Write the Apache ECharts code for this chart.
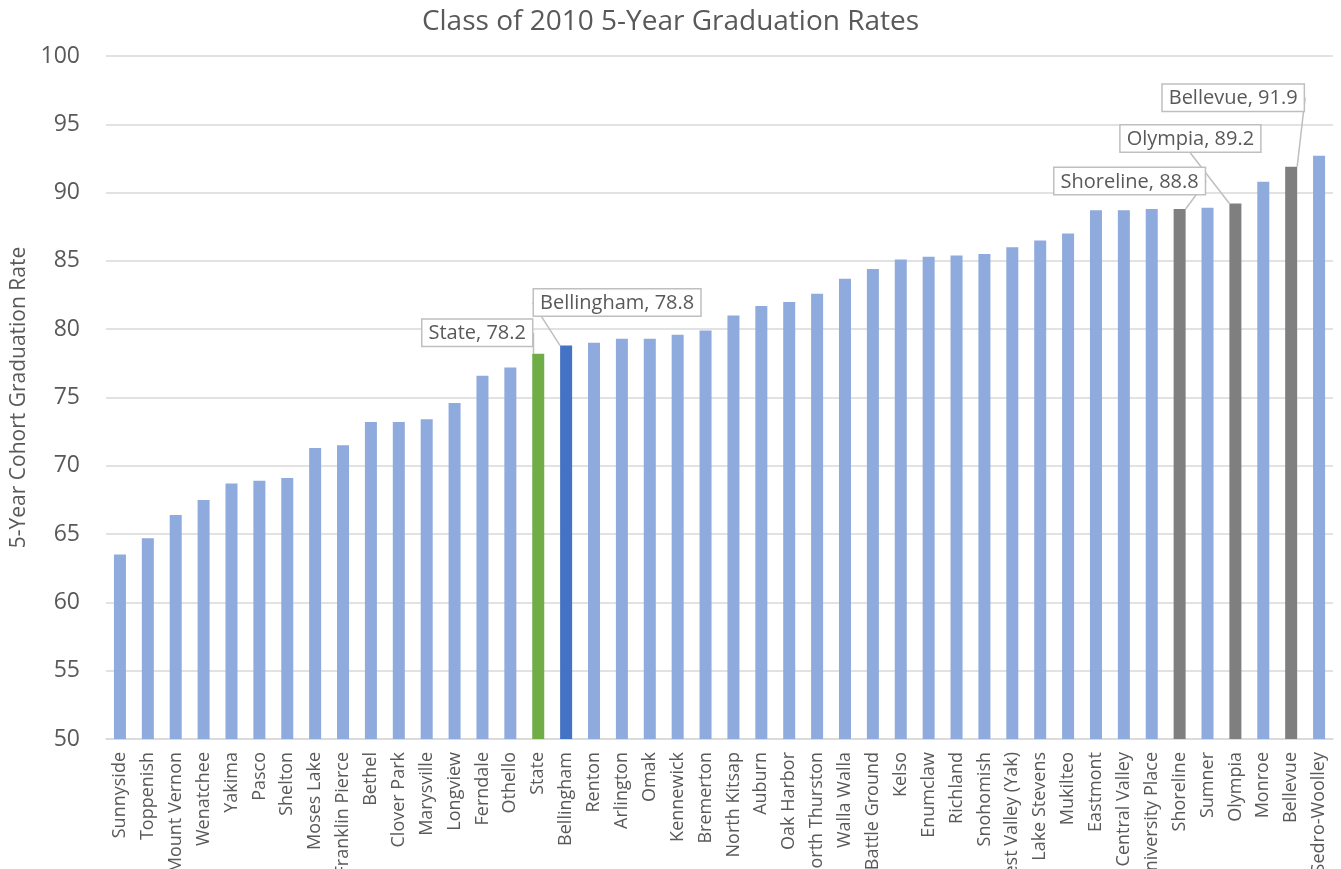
<!DOCTYPE html>
<html>
<head>
<meta charset="utf-8">
<script src="https://cdn.jsdelivr.net/npm/echarts@6/dist/echarts.min.js"></script>
<style>
  html, body { margin: 0; padding: 0; background: #fff; }
  #main { width: 1341px; height: 869px; }
</style>
</head>
<body>
<div id="main"></div>
<script>
// 学区名称
let districts = ['Sunnyside', 'Toppenish', 'Mount Vernon', 'Wenatchee', 'Yakima', 'Pasco', 'Shelton', 'Moses Lake',
    'Franklin Pierce', 'Bethel', 'Clover Park', 'Marysville', 'Longview', 'Ferndale', 'Othello', 'State',
    'Bellingham', 'Renton', 'Arlington', 'Omak', 'Kennewick', 'Bremerton', 'North Kitsap', 'Auburn',
    'Oak Harbor', 'North Thurston', 'Walla Walla', 'Battle Ground', 'Kelso', 'Enumclaw', 'Richland',
    'Snohomish', 'West Valley (Yak)', 'Lake Stevens', 'Mukilteo', 'Eastmont', 'Central Valley',
    'University Place', 'Shoreline', 'Sumner', 'Olympia', 'Monroe', 'Bellevue', 'Sedro-Woolley'];

// 5年毕业率
let rates = [63.5, 64.7, 66.4, 67.5, 68.7, 68.9, 69.1, 71.3,
    71.5, 73.2, 73.2, 73.4, 74.6, 76.6, 77.2, 78.2,
    78.8, 79.0, 79.3, 79.3, 79.6, 79.9, 81.0, 81.7,
    82.0, 82.6, 83.7, 84.4, 85.1, 85.3, 85.4,
    85.5, 86.0, 86.5, 87.0, 88.7, 88.7,
    88.8, 88.8, 88.9, 89.2, 90.8, 91.9, 92.7];

// 需要标注的学区
let labelled = ['State', 'Bellingham', 'Shoreline', 'Olympia', 'Bellevue'];

// 颜色
let colors = { base: '#8FAADC', State: '#70AD47', Bellingham: '#4472C4', Shoreline: '#7F7F7F', Olympia: '#7F7F7F', Bellevue: '#7F7F7F' };
// 标签偏移
let labelShift = { State: [-61, -3], Bellingham: [51, -25], Shoreline: [-50, -10], Olympia: [-45, -47], Bellevue: [-58, -51] };

let font = 'Open Sans';

let option = {
    backgroundColor: '#fff',
    animation: false,
    title: {
        text: 'Class of 2010 5-Year Graduation Rates',
        left: 'center',
        top: 3,
        textStyle: { color: '#595959', fontFamily: font, fontWeight: 'normal', fontSize: 28 }
    },
    grid: { left: 106, right: 8, top: 56, bottom: 130, outerBoundsMode: 'none' },
    xAxis: {
        type: 'category',
        data: districts,
        axisLine: { lineStyle: { color: '#d9d9d9', width: 1.5 } },
        axisTick: { show: false },
        axisLabel: { rotate: 90, interval: 0, color: '#595959', fontFamily: font, fontSize: 18, margin: 13 }
    },
    yAxis: {
        type: 'value',
        min: 50, max: 100, interval: 5,
        name: '5-Year Cohort Graduation Rate',
        nameLocation: 'middle',
        nameGap: 76,
        nameTextStyle: { color: '#595959', fontFamily: font, fontSize: 21 },
        axisLine: { show: false },
        axisTick: { show: false },
        axisLabel: { color: '#595959', fontFamily: font, fontSize: 23, margin: 26 },
        splitLine: { lineStyle: { color: '#d9d9d9', width: 1.5 } }
    },
    series: [{
        type: 'bar',
        barWidth: 12,
        data: districts.map((d, i) => {
            let item = { value: rates[i], itemStyle: { color: colors[d] || colors.base } };
            if (labelled.includes(d)) {
                item.label = {
                    show: true,
                    position: 'top',
                    distance: 5,
                    formatter: d + ', ' + rates[i].toFixed(1),
                    color: '#595959',
                    fontFamily: font,
                    fontSize: 20,
                    backgroundColor: '#fff',
                    borderColor: '#bfbfbf',
                    borderWidth: 1.5,
                    padding: [4, 6, 2, 6]
                };
                item.labelLine = { show: true, lineStyle: { color: '#bfbfbf', width: 1.5 } };
            }
            return item;
        }),
        labelLayout: function (p) {
            let s = labelShift[districts[p.dataIndex]];
            return s ? { dx: s[0], dy: s[1] } : {};
        }
    }]
};

let myChart = echarts.init(document.getElementById('main'));
myChart.setOption(option);
</script>
</body>
</html>
